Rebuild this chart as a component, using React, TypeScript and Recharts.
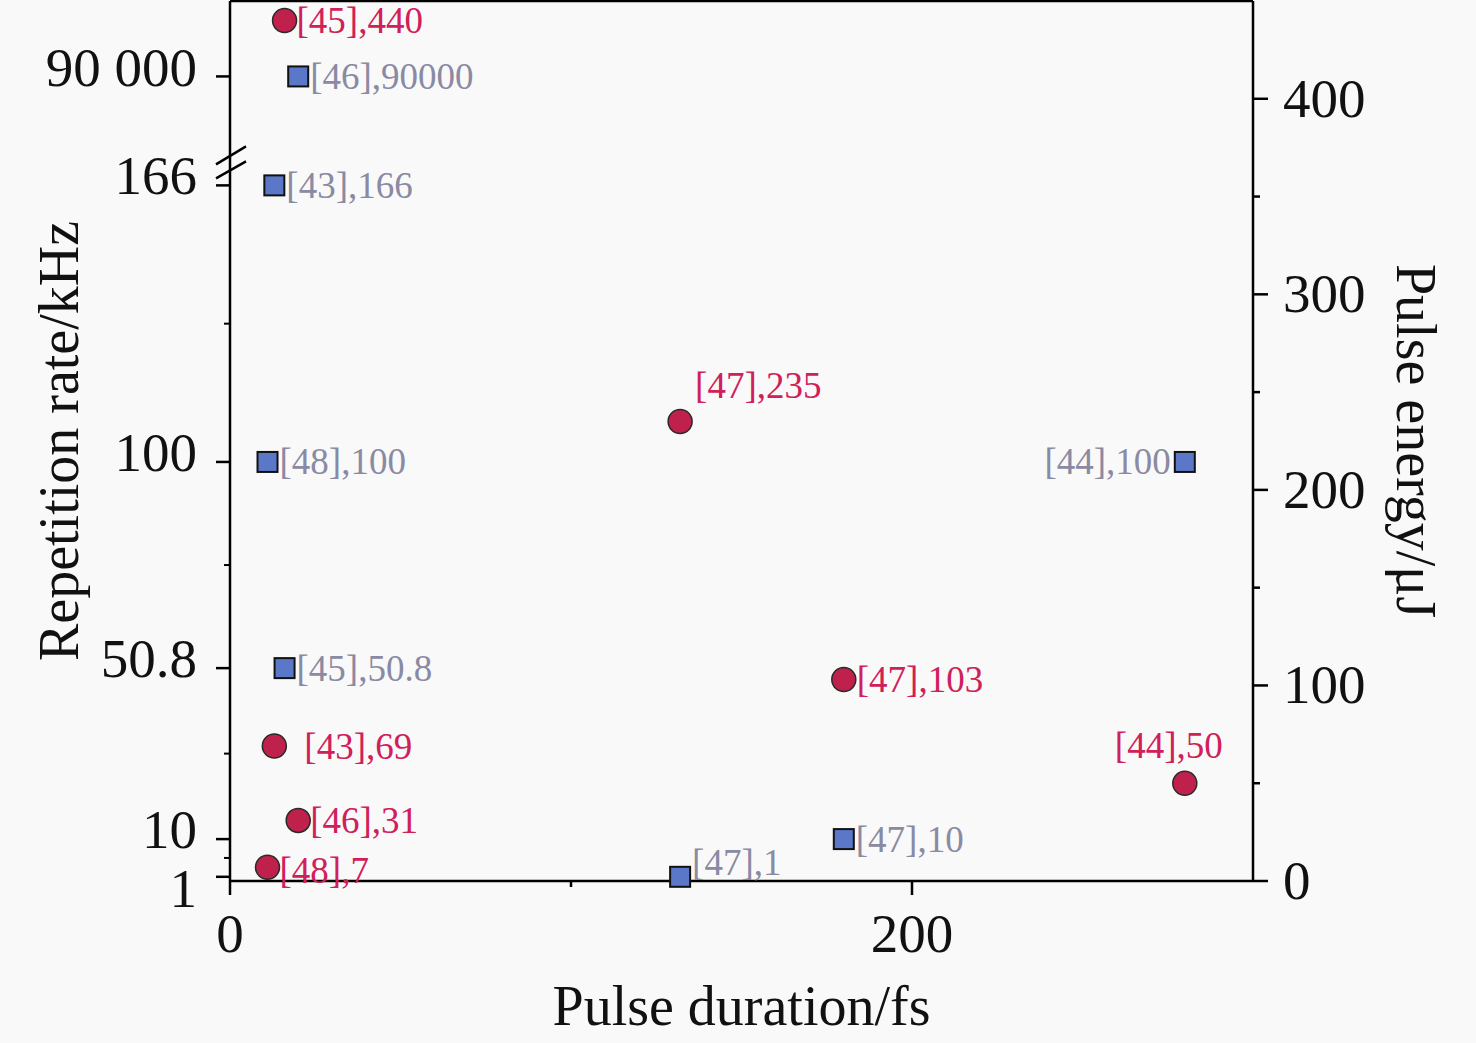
import React from 'react';
import { ScatterChart, Scatter, XAxis, YAxis, ReferenceLine } from 'recharts';

const FONT = '"Liberation Serif", "Times New Roman", Times, serif';

// ---------------- data ----------------
// Repetition rate (kHz) — blue squares, left axis
const rateRefs = ['[46]', '[43]', '[48]', '[45]', '[47]', '[47]', '[44]'];
const rateDurationsFs = [20, 13, 11, 16, 132, 180, 280];
const rateKHz = [90000, 166, 100, 50.8, 1, 10, 100];

// Pulse energy (μJ) — red circles, right axis
const energyRefs = ['[45]', '[47]', '[47]', '[44]', '[43]', '[46]', '[48]'];
const energyDurationsFs = [16, 132, 180, 280, 13, 20, 11];
const energyUJ = [440, 235, 103, 50, 69, 31, 7];

// tick values / labels
const xTickValues = [0, 100, 200];
const xTickLabels = ['0', '', '200'];
const leftTickValues = [1, 10, 50.8, 100, 166, 90000];
const leftTickLabels = ['1', '10', '50.8', '100', '166', '90 000'];
const rightTickValues = [0, 100, 200, 300, 400];
const rightMinorValues = [50, 150, 250, 350];

// ---------------- axis break ----------------
const BREAK_AT = 166;
const BREAK_TOP = 90000;
const BREAK_SPAN = 26; // axis units given to the part above the break
const brk = (v: number) =>
  v <= BREAK_AT ? v : BREAK_AT + ((v - BREAK_AT) / (BREAK_TOP - BREAK_AT)) * BREAK_SPAN;

const leftMajor = leftTickValues.map(brk);
const leftMinor: number[] = [];
for (let i = 0; i < leftTickValues.length - 1; i++) {
  if (leftTickValues[i + 1] <= BREAK_AT) leftMinor.push((leftMajor[i] + leftMajor[i + 1]) / 2);
}
const leftTicks = [...leftMajor, ...leftMinor].sort((a, b) => a - b);
const rightTicks = [...rightTickValues, ...rightMinorValues].sort((a, b) => a - b);

// ---------------- label layout (styling, not data) ----------------
type Place = { dx: number; dy: number; anchor: 'start' | 'middle' | 'end' };
const rateLabelPlace: Place[] = [
  { dx: 12, dy: 0, anchor: 'start' },
  { dx: 12, dy: 0, anchor: 'start' },
  { dx: 12, dy: 0, anchor: 'start' },
  { dx: 12, dy: 0, anchor: 'start' },
  { dx: 12, dy: -14, anchor: 'start' },
  { dx: 12, dy: 0, anchor: 'start' },
  { dx: -14, dy: 0, anchor: 'end' },
];
const energyLabelPlace: Place[] = [
  { dx: 12, dy: 0, anchor: 'start' },
  { dx: 15, dy: -36, anchor: 'start' },
  { dx: 13, dy: 0, anchor: 'start' },
  { dx: -16, dy: -38, anchor: 'middle' },
  { dx: 30, dy: 0, anchor: 'start' },
  { dx: 12, dy: 0, anchor: 'start' },
  { dx: 12, dy: 3, anchor: 'start' },
];
const leftTickDy = [30, 9, 9, 9, 9, 10];

const rateData = rateKHz.map((v, i) => ({
  x: rateDurationsFs[i],
  y: brk(v),
  label: `${rateRefs[i]},${v}`,
  i,
}));
const energyData = energyUJ.map((v, i) => ({
  x: energyDurationsFs[i],
  y: v,
  label: `${energyRefs[i]},${v}`,
  i,
}));

const RED_FILL = '#c0214c';
const RED_TEXT = '#d0205a';
const BLUE_FILL = '#5b78c8';
const GRAY_TEXT = '#8a8aa2';
const TICK_FS = 55;
const TITLE_FS = 56;
const LABEL_FS = 37;

const renderSquare = (props: any) => {
  const { cx, cy, payload } = props;
  if (cx == null || cy == null) return <g />;
  const p = rateLabelPlace[payload.i];
  return (
    <g>
      <rect x={cx - 10} y={cy - 10} width={20} height={20} fill={BLUE_FILL} stroke="#111" strokeWidth={2} />
      <text
        x={cx + p.dx}
        y={cy + p.dy}
        textAnchor={p.anchor}
        dominantBaseline="central"
        fontFamily={FONT}
        fontSize={LABEL_FS}
        fill={GRAY_TEXT}
      >
        {payload.label}
      </text>
    </g>
  );
};

const renderCircle = (props: any) => {
  const { cx, cy, payload } = props;
  if (cx == null || cy == null) return <g />;
  const p = energyLabelPlace[payload.i];
  return (
    <g>
      <circle cx={cx} cy={cy} r={12} fill={RED_FILL} stroke="#2a2a2a" strokeWidth={1.5} />
      <text
        x={cx + p.dx}
        y={cy + p.dy}
        textAnchor={p.anchor}
        dominantBaseline="central"
        fontFamily={FONT}
        fontSize={LABEL_FS}
        fill={RED_TEXT}
      >
        {payload.label}
      </text>
    </g>
  );
};

const XTick = (props: any) => {
  const { x, y, payload } = props;
  const idx = xTickValues.indexOf(payload.value);
  const label = idx >= 0 ? xTickLabels[idx] : '';
  const major = label !== '';
  return (
    <g>
      <line x1={x} x2={x} y1={y} y2={y + (major ? 14 : 6)} stroke="#000" strokeWidth={2.5} />
      {major && (
        <text x={x} y={y + 71} textAnchor="middle" fontFamily={FONT} fontSize={TICK_FS} fill="#111">
          {label}
        </text>
      )}
    </g>
  );
};

const LeftTick = (props: any) => {
  const { x, y, payload } = props;
  const idx = leftMajor.findIndex((m) => Math.abs(m - payload.value) < 1e-9);
  if (idx < 0) {
    return <line x1={x - 6} x2={x} y1={y} y2={y} stroke="#000" strokeWidth={2} />;
  }
  const isBreak = leftTickValues[idx] === BREAK_AT;
  return (
    <g>
      <line x1={x - 14} x2={x} y1={y} y2={y} stroke="#000" strokeWidth={2.5} />
      <text x={x - 33} y={y + leftTickDy[idx]} textAnchor="end" fontFamily={FONT} fontSize={TICK_FS} fill="#111">
        {leftTickLabels[idx]}
      </text>
      {isBreak && (
        <g stroke="#000" strokeWidth={2.4}>
          <line x1={x - 14} y1={y - 21} x2={x + 16} y2={y - 39} />
          <line x1={x - 14} y1={y - 7} x2={x + 16} y2={y - 24} />
        </g>
      )}
    </g>
  );
};

const RightTick = (props: any) => {
  const { x, y, payload } = props;
  const major = rightTickValues.includes(payload.value);
  return (
    <g>
      <line x1={x} x2={x + (major ? 15 : 7)} y1={y} y2={y} stroke="#000" strokeWidth={2.5} />
      {major && (
        <text x={x + 30} y={y + 18} textAnchor="start" fontFamily={FONT} fontSize={TICK_FS} fill="#111">
          {payload.value}
        </text>
      )}
    </g>
  );
};

const leftTitle = (props: any) => {
  const vb = props.viewBox || {};
  const cx = vb.x + 59;
  const cy = vb.y + vb.height / 2;
  return (
    <text
      x={cx}
      y={cy}
      transform={`rotate(-90, ${cx}, ${cy})`}
      textAnchor="middle"
      dominantBaseline="central"
      fontFamily={FONT}
      fontSize={TITLE_FS}
      fill="#111"
    >
      Repetition rate/kHz
    </text>
  );
};

const rightTitle = (props: any) => {
  const vb = props.viewBox || {};
  const cx = vb.x + 163;
  const cy = vb.y + vb.height / 2;
  return (
    <text
      x={cx}
      y={cy}
      transform={`rotate(90, ${cx}, ${cy})`}
      textAnchor="middle"
      dominantBaseline="central"
      fontFamily={FONT}
      fontSize={TITLE_FS}
      fill="#111"
    >
      Pulse energy/μJ
    </text>
  );
};

const bottomTitle = (props: any) => {
  const vb = props.viewBox || {};
  const cx = vb.x + vb.width / 2;
  const by = vb.y + 144;
  return (
    <text x={cx} y={by} textAnchor="middle" fontFamily={FONT} fontSize={TITLE_FS} fill="#111">
      Pulse duration/fs
    </text>
  );
};

export default function App() {
  return (
    <div
      style={{
        position: 'absolute',
        left: 0,
        top: 0,
        width: 1476,
        height: 1043,
        background: '#f9f9f9',
      }}
    >
      <ScatterChart width={1476} height={1043} margin={{ top: 1, right: 0, bottom: 0, left: 0 }}>
        <XAxis
          type="number"
          dataKey="x"
          domain={[0, 300]}
          ticks={xTickValues}
          interval={0}
          tick={<XTick />}
          tickLine={false}
          tickSize={0}
          tickMargin={0}
          axisLine={{ stroke: '#000', strokeWidth: 2.5 }}
          height={162}
          label={bottomTitle}
        />
        <YAxis
          yAxisId="left"
          type="number"
          dataKey="y"
          domain={[0, 210]}
          ticks={leftTicks}
          interval={0}
          tick={<LeftTick />}
          tickLine={false}
          tickSize={0}
          tickMargin={0}
          axisLine={{ stroke: '#000', strokeWidth: 2.5 }}
          width={230}
          label={leftTitle}
        />
        <YAxis
          yAxisId="right"
          orientation="right"
          type="number"
          dataKey="y"
          domain={[0, 450]}
          ticks={rightTicks}
          interval={0}
          tick={<RightTick />}
          tickLine={false}
          tickSize={0}
          tickMargin={0}
          axisLine={{ stroke: '#000', strokeWidth: 2.5 }}
          width={223}
          label={rightTitle}
        />
        <ReferenceLine yAxisId="right" y={450} stroke="#000" strokeWidth={2.5} />
        <Scatter
          yAxisId="left"
          data={rateData}
          shape={renderSquare}
          isAnimationActive={false}
        />
        <Scatter
          yAxisId="right"
          data={energyData}
          shape={renderCircle}
          isAnimationActive={false}
        />
      </ScatterChart>
    </div>
  );
}
